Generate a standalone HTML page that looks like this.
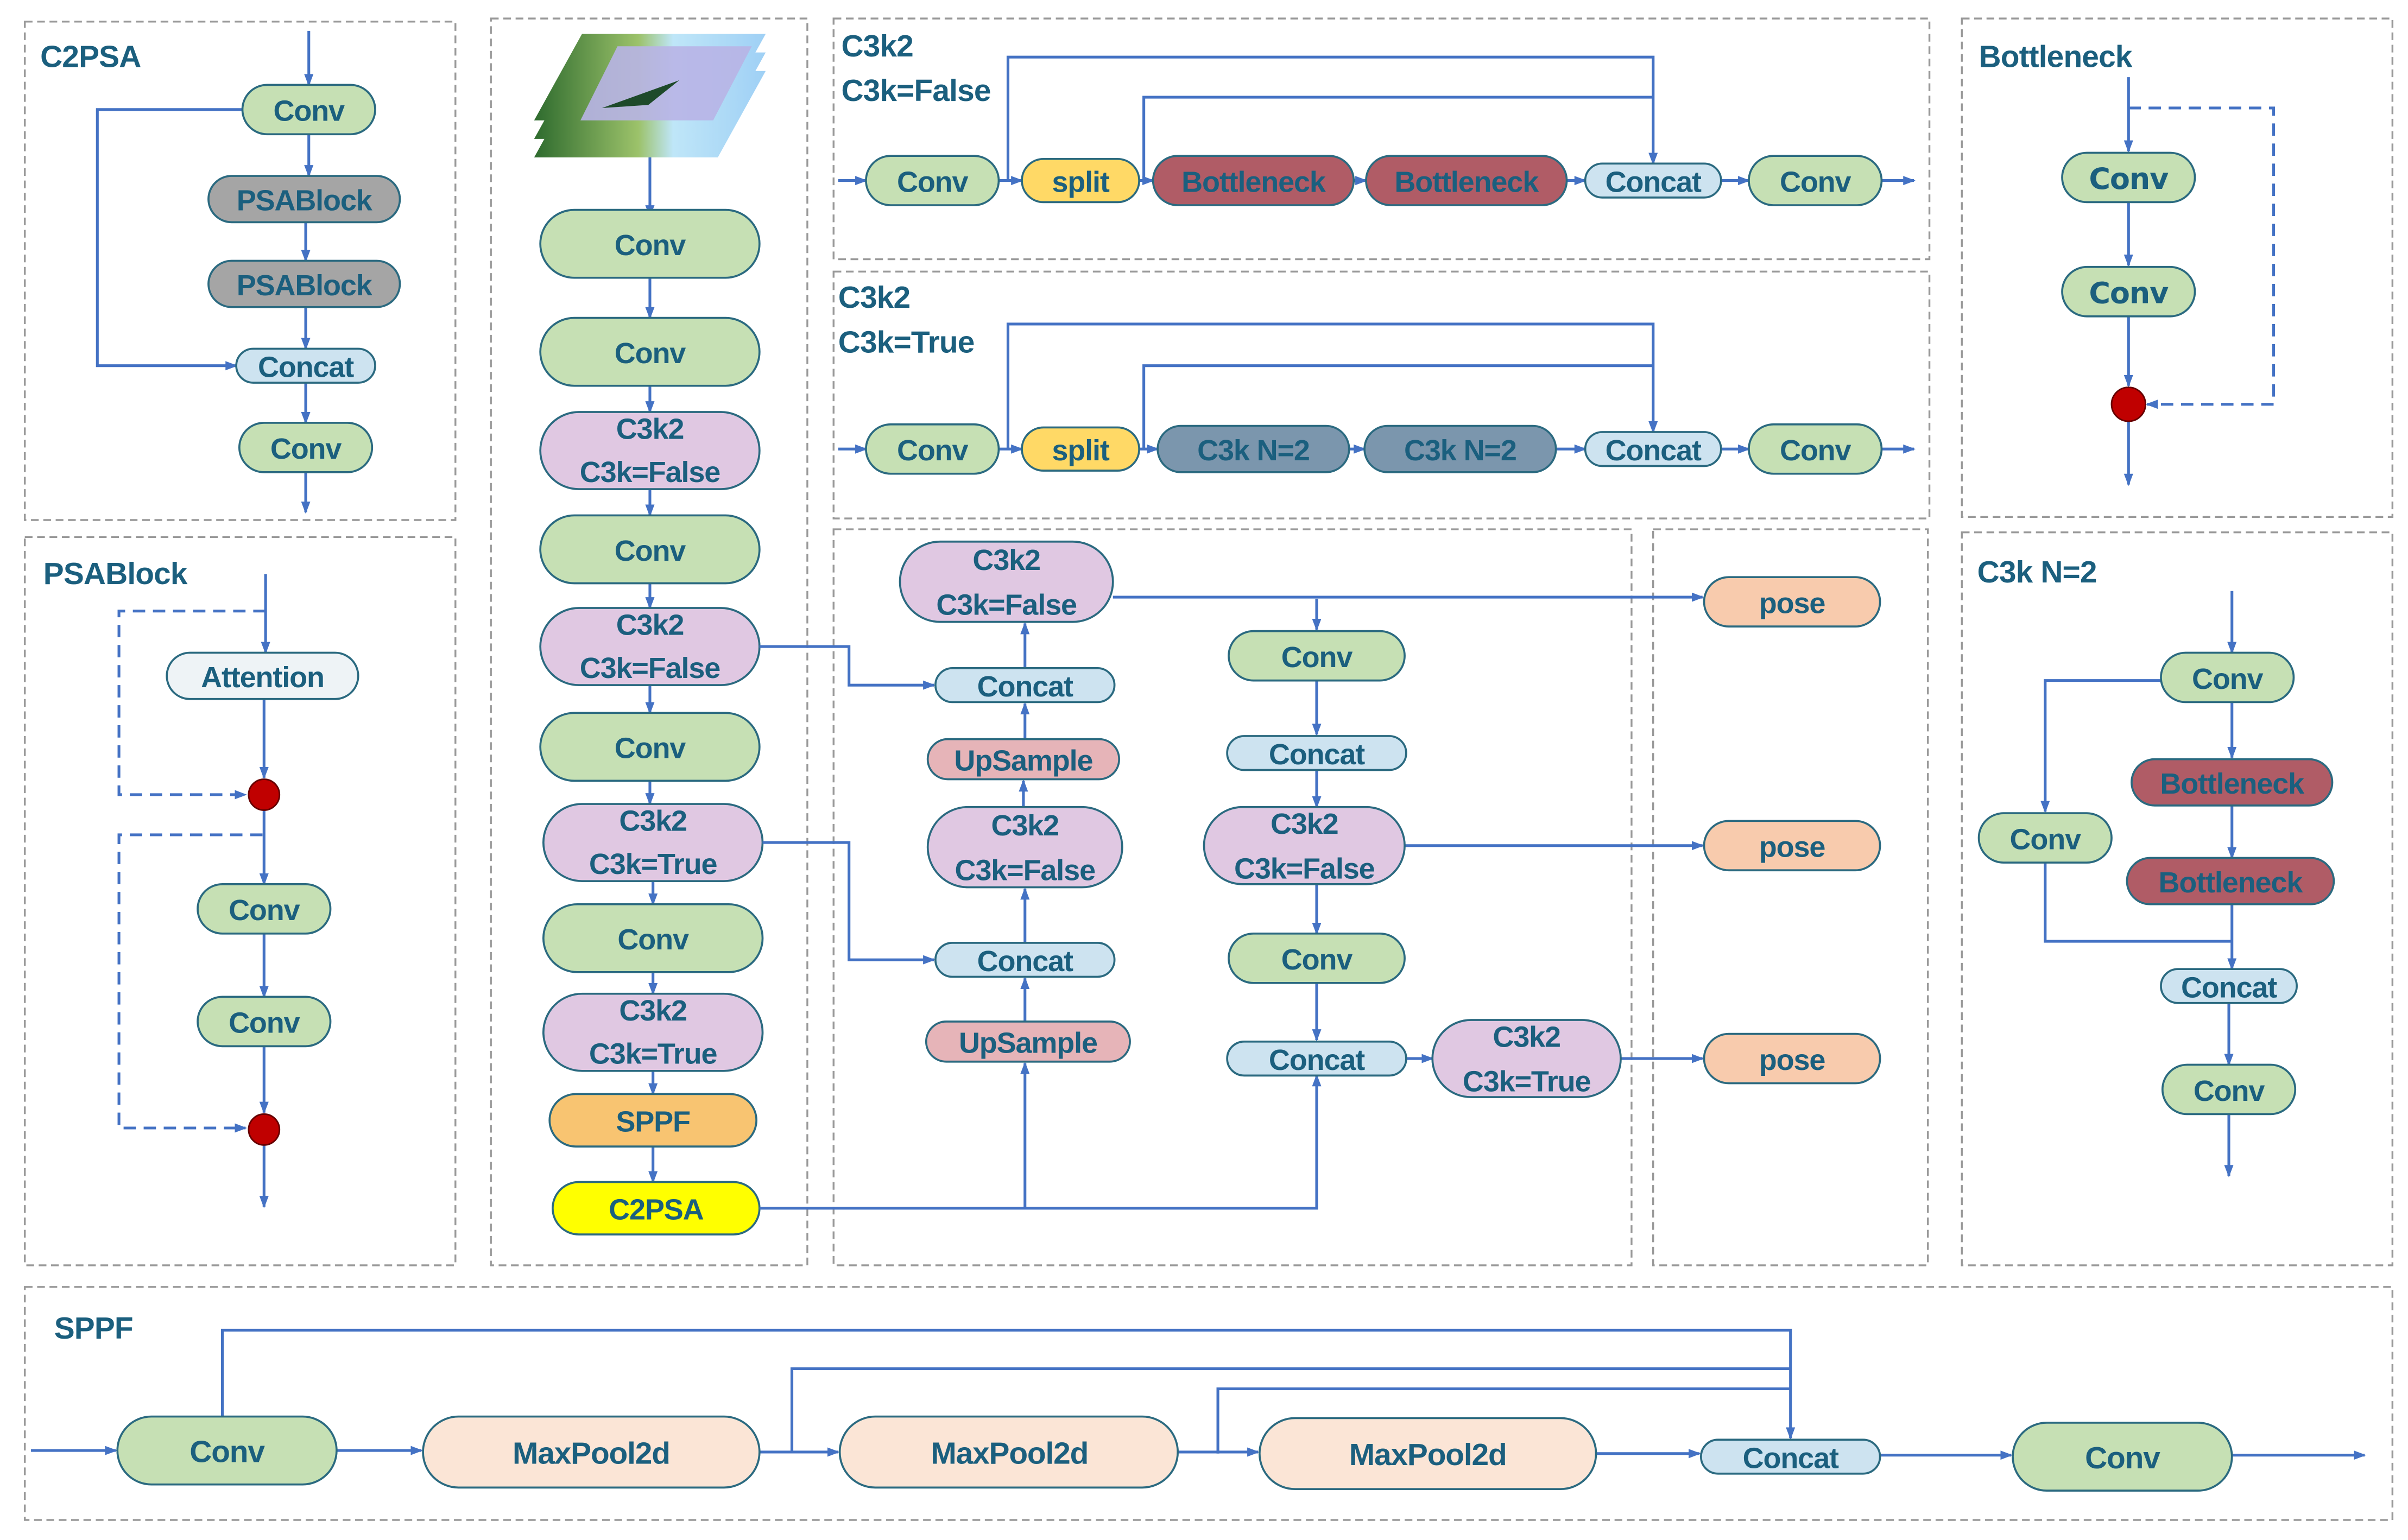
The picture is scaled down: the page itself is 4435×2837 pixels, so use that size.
<!DOCTYPE html>
<html><head><meta charset="utf-8"><style>
html,body{margin:0;padding:0;background:#fff;width:4435px;height:2837px;overflow:hidden}
svg{display:block}
text{font-family:"Liberation Sans",sans-serif;font-weight:bold;fill:#1b5f7e;text-anchor:middle;dominant-baseline:central;font-size:19px;letter-spacing:-0.4px}
.t{text-anchor:start;font-size:20px;letter-spacing:-0.3px}
.s{font-size:20px}
.n{stroke:#2b6a80;stroke-width:1.3}
.l{stroke:#4472c4;stroke-width:1.8;fill:none}
.d{stroke:#4472c4;stroke-width:1.8;fill:none;stroke-dasharray:8 5}
.p{stroke:#999;stroke-width:1.2;fill:none;stroke-dasharray:5 3}
</style></head><body>
<svg width="4435" height="2837" viewBox="0 0 1560 998" xmlns="http://www.w3.org/2000/svg">
<defs>
<marker id="a" markerWidth="8" markerHeight="8" refX="7" refY="4" orient="auto" markerUnits="userSpaceOnUse"><path d="M0,1 L8,4 L0,7z" fill="#4472c4"/></marker>
<linearGradient id="g" x1="0" x2="1" y1="0" y2="0"><stop offset="0" stop-color="#2e6b2e"/><stop offset="0.45" stop-color="#9cc26a"/><stop offset="0.6" stop-color="#bfe6f8"/><stop offset="1" stop-color="#9fd0f5"/></linearGradient>
</defs>

<rect class="p" x="16" y="14" width="279" height="323"/>
<rect class="p" x="16" y="348" width="279" height="472"/>
<rect class="p" x="318" y="12" width="205" height="808"/>
<rect class="p" x="540" y="12" width="710" height="156"/>
<rect class="p" x="540" y="176" width="710" height="160"/>
<rect class="p" x="540" y="343" width="517" height="477"/>
<rect class="p" x="1071" y="343" width="178" height="477"/>
<rect class="p" x="1271" y="12" width="279" height="323"/>
<rect class="p" x="1271" y="345" width="279" height="475"/>
<rect class="p" x="16" y="834" width="1534" height="151"/>

<text class="t" x="26" y="37">C2PSA</text>
<text class="t" x="28" y="372">PSABlock</text>
<text class="t" x="545" y="30">C3k2</text>
<text class="t" x="545" y="59">C3k=False</text>
<text class="t" x="543" y="193">C3k2</text>
<text class="t" x="543" y="222">C3k=True</text>
<text class="t" x="1282" y="37">Bottleneck</text>
<text class="t" x="1281" y="371">C3k N=2</text>
<text class="t" x="35" y="861">SPPF</text>

<path class="l" d="M200,20 V55" marker-end="url(#a)"/>
<path class="l" d="M200,87 V114" marker-end="url(#a)"/>
<path class="l" d="M198,144 V169" marker-end="url(#a)"/>
<path class="l" d="M198,199 V226" marker-end="url(#a)"/>
<path class="l" d="M198,248 V274" marker-end="url(#a)"/>
<path class="l" d="M198,306 V332" marker-end="url(#a)"/>
<path class="l" d="M157,71 H63 V237 H153" marker-end="url(#a)"/>
<rect class="n" x="157" y="55" width="86" height="32" rx="16" fill="#c6e0b4"/><text x="200" y="72">Conv</text>
<rect class="n" x="135" y="114" width="124" height="30" rx="15" fill="#a5a5a5"/><text x="197" y="130">PSABlock</text>
<rect class="n" x="135" y="169" width="124" height="30" rx="15" fill="#a5a5a5"/><text x="197" y="185">PSABlock</text>
<rect class="n" x="153" y="226" width="90" height="22" rx="11" fill="#cde3f0"/><text x="198" y="238">Concat</text>
<rect class="n" x="155" y="274" width="86" height="32" rx="16" fill="#c6e0b4"/><text x="198" y="291">Conv</text>

<path class="l" d="M172,372 V423" marker-end="url(#a)"/>
<path class="d" d="M172,396 H77 V515 H159" marker-end="url(#a)"/>
<path class="l" d="M171,453 V504" marker-end="url(#a)"/>
<path class="l" d="M171,525 V573" marker-end="url(#a)"/>
<path class="d" d="M170,541 H77 V731 H159" marker-end="url(#a)"/>
<path class="l" d="M171,605 V646" marker-end="url(#a)"/>
<path class="l" d="M171,678 V721" marker-end="url(#a)"/>
<path class="l" d="M171,742 V782" marker-end="url(#a)"/>
<rect class="n" x="108" y="423" width="124" height="30" rx="15" fill="#eef3f6"/><text x="170" y="439">Attention</text>
<circle cx="171" cy="515" r="10" fill="#c00000" stroke="#600" stroke-width="1"/>
<rect class="n" x="128" y="573" width="86" height="32" rx="16" fill="#c6e0b4"/><text x="171" y="590">Conv</text>
<rect class="n" x="128" y="646" width="86" height="32" rx="16" fill="#c6e0b4"/><text x="171" y="663">Conv</text>
<circle cx="171" cy="732" r="10" fill="#c00000" stroke="#600" stroke-width="1"/>

<polygon points="377,46 496,46 465,102 346,102" fill="url(#g)"/>
<polygon points="377,34 496,34 465,90 346,90" fill="url(#g)"/>
<polygon points="377,22 496,22 465,78 346,78" fill="url(#g)"/>
<polygon points="400,30 487,30 462,78 376,78" fill="#b8b4e6" opacity="0.9"/>
<path d="M390,70 L440,52 L420,68z" fill="#1e4a2a"/>
<path class="l" d="M421,102 V140" marker-end="url(#a)"/>
<path class="l" d="M421,180 V206" marker-end="url(#a)"/>
<path class="l" d="M421,250 V267" marker-end="url(#a)"/>
<path class="l" d="M421,317 V334" marker-end="url(#a)"/>
<path class="l" d="M421,378 V394" marker-end="url(#a)"/>
<path class="l" d="M421,444 V462" marker-end="url(#a)"/>
<path class="l" d="M421,506 V521" marker-end="url(#a)"/>
<path class="l" d="M423,571 V586" marker-end="url(#a)"/>
<path class="l" d="M423,630 V644" marker-end="url(#a)"/>
<path class="l" d="M423,694 V709" marker-end="url(#a)"/>
<path class="l" d="M423,743 V766" marker-end="url(#a)"/>
<rect class="n" x="350" y="136" width="142" height="44" rx="22" fill="#c6e0b4"/><text x="421" y="159">Conv</text>
<rect class="n" x="350" y="206" width="142" height="44" rx="22" fill="#c6e0b4"/><text x="421" y="229">Conv</text>
<rect class="n" x="350" y="267" width="142" height="50" rx="25" fill="#e0c8e2"/><text x="421" y="278">C3k2</text><text x="421" y="306">C3k=False</text>
<rect class="n" x="350" y="334" width="142" height="44" rx="22" fill="#c6e0b4"/><text x="421" y="357">Conv</text>
<rect class="n" x="350" y="394" width="142" height="50" rx="25" fill="#e0c8e2"/><text x="421" y="405">C3k2</text><text x="421" y="433">C3k=False</text>
<rect class="n" x="350" y="462" width="142" height="44" rx="22" fill="#c6e0b4"/><text x="421" y="485">Conv</text>
<rect class="n" x="352" y="521" width="142" height="50" rx="25" fill="#e0c8e2"/><text x="423" y="532">C3k2</text><text x="423" y="560">C3k=True</text>
<rect class="n" x="352" y="586" width="142" height="44" rx="22" fill="#c6e0b4"/><text x="423" y="609">Conv</text>
<rect class="n" x="352" y="644" width="142" height="50" rx="25" fill="#e0c8e2"/><text x="423" y="655">C3k2</text><text x="423" y="683">C3k=True</text>
<rect class="n" x="356" y="709" width="134" height="34" rx="17" fill="#f8c471"/><text x="423" y="727">SPPF</text>
<rect class="n" x="358" y="766" width="134" height="34" rx="17" fill="#ffff00"/><text x="425" y="784">C2PSA</text>

<path class="l" d="M543,117 H561" marker-end="url(#a)"/>
<path class="l" d="M647,117 H662" marker-end="url(#a)"/>
<path class="l" d="M738,117 H747" marker-end="url(#a)"/>
<path class="l" d="M877,117 H885" marker-end="url(#a)"/>
<path class="l" d="M1015,117 H1027" marker-end="url(#a)"/>
<path class="l" d="M1115,117 H1133" marker-end="url(#a)"/>
<path class="l" d="M1219,117 H1240" marker-end="url(#a)"/>
<path class="l" d="M653,117 V37 H1071 V106" marker-end="url(#a)"/>
<path class="l" d="M741,117 V63 H1071"/>
<rect class="n" x="561" y="101" width="86" height="32" rx="16" fill="#c6e0b4"/><text x="604" y="118">Conv</text>
<rect class="n" x="662" y="103" width="76" height="28" rx="14" fill="#ffd966"/><text x="700" y="118">split</text>
<rect class="n" x="747" y="101" width="130" height="32" rx="16" fill="#b05c66"/><text x="812" y="118">Bottleneck</text>
<rect class="n" x="885" y="101" width="130" height="32" rx="16" fill="#b05c66"/><text x="950" y="118">Bottleneck</text>
<rect class="n" x="1027" y="106" width="88" height="22" rx="11" fill="#cde3f0"/><text x="1071" y="118">Concat</text>
<rect class="n" x="1133" y="101" width="86" height="32" rx="16" fill="#c6e0b4"/><text x="1176" y="118">Conv</text>

<path class="l" d="M543,291 H561" marker-end="url(#a)"/>
<path class="l" d="M647,291 H662" marker-end="url(#a)"/>
<path class="l" d="M738,291 H750" marker-end="url(#a)"/>
<path class="l" d="M874,291 H884" marker-end="url(#a)"/>
<path class="l" d="M1008,291 H1027" marker-end="url(#a)"/>
<path class="l" d="M1115,291 H1133" marker-end="url(#a)"/>
<path class="l" d="M1219,291 H1240" marker-end="url(#a)"/>
<path class="l" d="M653,291 V210 H1071 V280" marker-end="url(#a)"/>
<path class="l" d="M741,291 V237 H1071"/>
<rect class="n" x="561" y="275" width="86" height="32" rx="16" fill="#c6e0b4"/><text x="604" y="292">Conv</text>
<rect class="n" x="662" y="277" width="76" height="28" rx="14" fill="#ffd966"/><text x="700" y="292">split</text>
<rect class="n" x="750" y="276" width="124" height="30" rx="15" fill="#7b96ad"/><text x="812" y="292">C3k N=2</text>
<rect class="n" x="884" y="276" width="124" height="30" rx="15" fill="#7b96ad"/><text x="946" y="292">C3k N=2</text>
<rect class="n" x="1027" y="280" width="88" height="22" rx="11" fill="#cde3f0"/><text x="1071" y="292">Concat</text>
<rect class="n" x="1133" y="275" width="86" height="32" rx="16" fill="#c6e0b4"/><text x="1176" y="292">Conv</text>

<path class="l" d="M492,419 H550 V444 H605" marker-end="url(#a)"/>
<path class="l" d="M494,546 H550 V622 H605" marker-end="url(#a)"/>
<path class="l" d="M492,783 H853 V697" marker-end="url(#a)"/>
<path class="l" d="M664,783 V689" marker-end="url(#a)"/>
<path class="l" d="M664,662 V634" marker-end="url(#a)"/>
<path class="l" d="M664,611 V576" marker-end="url(#a)"/>
<path class="l" d="M663,523 V506" marker-end="url(#a)"/>
<path class="l" d="M664,479 V456" marker-end="url(#a)"/>
<path class="l" d="M664,433 V404" marker-end="url(#a)"/>
<path class="l" d="M721,387 H1103" marker-end="url(#a)"/>
<path class="l" d="M853,388 V408" marker-end="url(#a)"/>
<path class="l" d="M853,441 V476" marker-end="url(#a)"/>
<path class="l" d="M853,499 V523" marker-end="url(#a)"/>
<path class="l" d="M910,548 H1103" marker-end="url(#a)"/>
<path class="l" d="M853,573 V605" marker-end="url(#a)"/>
<path class="l" d="M853,637 V674" marker-end="url(#a)"/>
<path class="l" d="M911,686 H928" marker-end="url(#a)"/>
<path class="l" d="M1050,686 H1103" marker-end="url(#a)"/>
<rect class="n" x="583" y="351" width="138" height="52" rx="26" fill="#e0c8e2"/><text x="652" y="363">C3k2</text><text x="652" y="392">C3k=False</text>
<rect class="n" x="606" y="433" width="116" height="22" rx="11" fill="#cde3f0"/><text x="664" y="445">Concat</text>
<rect class="n" x="601" y="479" width="124" height="26" rx="13" fill="#e6b4b8"/><text x="663" y="493">UpSample</text>
<rect class="n" x="601" y="523" width="126" height="52" rx="26" fill="#e0c8e2"/><text x="664" y="535">C3k2</text><text x="664" y="564">C3k=False</text>
<rect class="n" x="606" y="611" width="116" height="22" rx="11" fill="#cde3f0"/><text x="664" y="623">Concat</text>
<rect class="n" x="600" y="662" width="132" height="26" rx="13" fill="#e6b4b8"/><text x="666" y="676">UpSample</text>
<rect class="n" x="796" y="409" width="114" height="32" rx="16" fill="#c6e0b4"/><text x="853" y="426">Conv</text>
<rect class="n" x="795" y="477" width="116" height="22" rx="11" fill="#cde3f0"/><text x="853" y="489">Concat</text>
<rect class="n" x="780" y="523" width="130" height="50" rx="25" fill="#e0c8e2"/><text x="845" y="534">C3k2</text><text x="845" y="563">C3k=False</text>
<rect class="n" x="796" y="605" width="114" height="32" rx="16" fill="#c6e0b4"/><text x="853" y="622">Conv</text>
<rect class="n" x="795" y="675" width="116" height="22" rx="11" fill="#cde3f0"/><text x="853" y="687">Concat</text>
<rect class="n" x="928" y="661" width="122" height="50" rx="25" fill="#e0c8e2"/><text x="989" y="672">C3k2</text><text x="989" y="701">C3k=True</text>

<rect class="n" x="1104" y="374" width="114" height="32" rx="16" fill="#f8cbad"/><text x="1161" y="391">pose</text>
<rect class="n" x="1104" y="532" width="114" height="32" rx="16" fill="#f8cbad"/><text x="1161" y="549">pose</text>
<rect class="n" x="1104" y="670" width="114" height="32" rx="16" fill="#f8cbad"/><text x="1161" y="687">pose</text>

<path class="l" d="M1379,50 V98" marker-end="url(#a)"/>
<path class="d" d="M1379,70 H1473 V262 H1391" marker-end="url(#a)"/>
<path class="l" d="M1379,131 V172" marker-end="url(#a)"/>
<path class="l" d="M1379,205 V250" marker-end="url(#a)"/>
<path class="l" d="M1379,273 V314" marker-end="url(#a)"/>
<rect class="n" x="1336" y="99" width="86" height="32" rx="16" fill="#c6e0b4"/><text x="1379" y="116" style="font-family:'DejaVu Sans',sans-serif">Conv</text>
<rect class="n" x="1336" y="173" width="86" height="32" rx="16" fill="#c6e0b4"/><text x="1379" y="190" style="font-family:'DejaVu Sans',sans-serif">Conv</text>
<circle cx="1379" cy="262" r="11" fill="#c00000" stroke="#600" stroke-width="1"/>

<path class="l" d="M1446,383 V423" marker-end="url(#a)"/>
<path class="l" d="M1446,455 V491" marker-end="url(#a)"/>
<path class="l" d="M1446,522 V556" marker-end="url(#a)"/>
<path class="l" d="M1446,586 V628" marker-end="url(#a)"/>
<path class="l" d="M1444,650 V690" marker-end="url(#a)"/>
<path class="l" d="M1444,722 V762" marker-end="url(#a)"/>
<path class="l" d="M1400,441 H1325 V526" marker-end="url(#a)"/>
<path class="l" d="M1325,559 V610 H1446"/>
<rect class="n" x="1400" y="423" width="86" height="32" rx="16" fill="#c6e0b4"/><text x="1443" y="440">Conv</text>
<rect class="n" x="1381" y="492" width="130" height="30" rx="15" fill="#b05c66"/><text x="1446" y="508">Bottleneck</text>
<rect class="n" x="1378" y="556" width="134" height="30" rx="15" fill="#b05c66"/><text x="1445" y="572">Bottleneck</text>
<rect class="n" x="1400" y="628" width="88" height="22" rx="11" fill="#cde3f0"/><text x="1444" y="640">Concat</text>
<rect class="n" x="1401" y="690" width="86" height="32" rx="16" fill="#c6e0b4"/><text x="1444" y="707">Conv</text>
<rect class="n" x="1282" y="527" width="86" height="32" rx="16" fill="#c6e0b4"/><text x="1325" y="544">Conv</text>

<path class="l" d="M20,940 H75" marker-end="url(#a)"/>
<path class="l" d="M218,940 H273" marker-end="url(#a)"/>
<path class="l" d="M492,941 H543" marker-end="url(#a)"/>
<path class="l" d="M763,941 H815" marker-end="url(#a)"/>
<path class="l" d="M1034,942 H1101" marker-end="url(#a)"/>
<path class="l" d="M1218,943 H1303" marker-end="url(#a)"/>
<path class="l" d="M1446,943 H1532" marker-end="url(#a)"/>
<path class="l" d="M144,918 V862 H1160 V932" marker-end="url(#a)"/>
<path class="l" d="M513,941 V887 H1160"/>
<path class="l" d="M789,942 V900 H1160"/>
<rect class="n" x="76" y="918" width="142" height="44" rx="22" fill="#c6e0b4"/><text class="s" x="147" y="941">Conv</text>
<rect class="n" x="274" y="918" width="218" height="46" rx="23" fill="#fbe5d6"/><text class="s" x="383" y="942">MaxPool2d</text>
<rect class="n" x="544" y="918" width="219" height="46" rx="23" fill="#fbe5d6"/><text class="s" x="654" y="942">MaxPool2d</text>
<rect class="n" x="816" y="919" width="218" height="46" rx="23" fill="#fbe5d6"/><text class="s" x="925" y="943">MaxPool2d</text>
<rect class="n" x="1102" y="933" width="116" height="22" rx="11" fill="#cde3f0"/><text x="1160" y="945">Concat</text>
<rect class="n" x="1304" y="922" width="142" height="44" rx="22" fill="#c6e0b4"/><text class="s" x="1375" y="945">Conv</text>
</svg>
</body></html>
